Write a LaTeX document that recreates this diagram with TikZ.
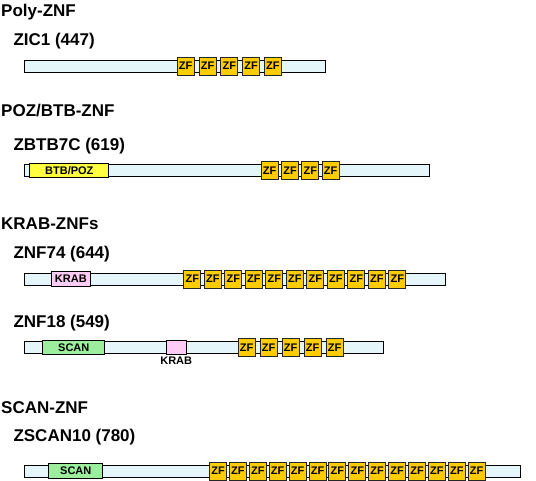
\documentclass[tikz,border=0pt]{standalone}
\usepackage{fontspec}
\setmainfont{Liberation Sans}
\definecolor{barfill}{HTML}{E4F6FA}
\definecolor{zffill}{HTML}{FFCC00}
\definecolor{btbfill}{HTML}{FFFF40}
\definecolor{scanfill}{HTML}{9CEE9C}
\definecolor{krabfill}{HTML}{FFCCF6}
\tikzset{
  title/.style={anchor=base west, inner sep=0pt, font=\fontsize{17}{20}\selectfont\bfseries},
  prot/.style={anchor=base west, inner sep=0pt, font=\fontsize{17}{20}\selectfont\bfseries},
  bar/.style={draw=black, line width=1pt, fill=barfill},
  dom/.style={draw=black, line width=1pt, inner sep=0pt, minimum height=14.5pt, anchor=west, font=\fontsize{11}{12}\selectfont\bfseries},
  zf/.style={draw=black!85, line width=1pt, fill=zffill, inner sep=0pt, minimum width=17pt, minimum height=18pt, anchor=west, font=\fontsize{11}{12}\selectfont\bfseries},
  lab/.style={inner sep=0pt, font=\fontsize{11}{12}\selectfont\bfseries},
}
\begin{document}
\begin{tikzpicture}[x=1pt,y=-1pt]
\useasboundingbox (0,0) rectangle (536,480);
% Poly-ZNF
\node[title] (t1) at (1,16) {Poly-ZNF};
\node[prot] (p1) at (13.3,45) {ZIC1 (447)};
\draw[bar] (24,60) rectangle (325,72);
\foreach \i in {0,...,4} \node[zf] (zfa\i) at (176.7+21.8*\i,66) {ZF};
% POZ/BTB-ZNF
\node[title] (t2) at (1,116) {POZ/BTB-ZNF};
\node[prot] (p2) at (13.3,150) {ZBTB7C (619)};
\draw[bar] (24,164.3) rectangle (429,176.3);
\node[dom, fill=btbfill, minimum width=79pt] (btb) at (29.3,170.3) {BTB/POZ};
\foreach \i in {0,...,3} \node[zf] (zfb\i) at (260.7+20.3*\i,170.3) {ZF};
% KRAB-ZNFs
\node[title] (t3) at (1,229) {KRAB-ZNFs};
\node[prot] (p3) at (13.3,258) {ZNF74 (644)};
\draw[bar] (24,273) rectangle (445,285);
\node[dom, fill=krabfill, minimum width=39.3pt] (krab1) at (50.7,279) {KRAB};
\foreach \i in {0,...,10} \node[zf] (zfc\i) at (183.3+20.5*\i,279) {ZF};
\node[prot] (p4) at (13.3,327) {ZNF18 (549)};
\draw[bar] (24,341.5) rectangle (383.3,353.5);
\node[dom, fill=scanfill, minimum width=62pt] (scan1) at (42.3,347.5) {SCAN};
\node[dom, fill=krabfill, minimum width=20pt] (krab2) at (165.7,347.5) {};
\node[lab, anchor=north] (krablab) at (krab2.south |- 0,357) {KRAB};
\foreach \i in {0,...,4} \node[zf] (zfd\i) at (237.7+22*\i,347.5) {ZF};
% SCAN-ZNF
\node[title] (t4) at (1,413.5) {SCAN-ZNF};
\node[prot] (p5) at (13.3,441.5) {ZSCAN10 (780)};
\draw[bar] (24,465) rectangle (520.7,477);
\node[dom, fill=scanfill, minimum width=54pt] (scan2) at (48.3,471) {SCAN};
\foreach \i in {0,...,13} \node[zf] (zfe\i) at (209+19.9*\i,471) {ZF};
\end{tikzpicture}
\end{document}
